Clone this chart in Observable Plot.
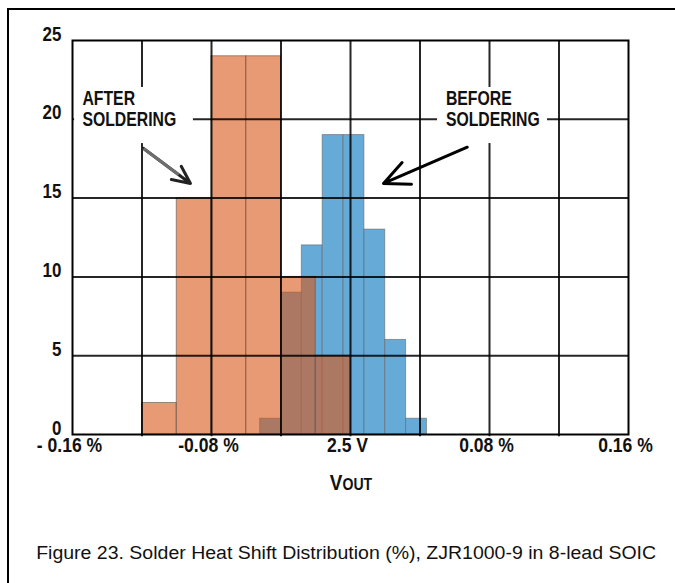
<!DOCTYPE html>
<html>
<head>
<meta charset="utf-8">
<script src="https://cdn.jsdelivr.net/npm/d3@7"></script>
<script src="https://cdn.jsdelivr.net/npm/@observablehq/plot@0.6"></script>
<style>
  html, body { margin: 0; padding: 0; background: #fff; overflow: hidden; }
  #page { position: relative; width: 675px; height: 583px; overflow: hidden; }
  #frame { position: absolute; left: 7px; top: 8px; width: 700px; height: 620px; border: 2px solid #000; box-sizing: border-box; }
  #chart { position: absolute; left: 0; top: 0; }
  #caption { position: absolute; left: 0; top: 543px; width: 692px; text-align: center;
    font-family: "Liberation Sans", Arial, sans-serif; font-size: 18px; line-height: 20px; color: #111; }
  #caption span { display: inline-block; white-space: nowrap; transform-origin: 50% 50%; }
</style>
</head>
<body>
<div id="page">
  <div id="frame"></div>
  <div id="chart"></div>
  <div id="caption"><span>Figure 23. Solder Heat Shift Distribution (%), ZJR1000-9 in 8-lead SOIC</span></div>
</div>
<script>
// Histogram of output shift (% of 2.5 V), 80 parts before and after soldering
const afterEdges = [-0.12, -0.10, -0.08, -0.06, -0.04, -0.02, 0];
const afterCounts = [2, 15, 24, 24, 10, 5];
const beforeEdges = [-0.052, -0.040, -0.028, -0.016, -0.004, 0.008, 0.020, 0.032, 0.044];
const beforeCounts = [1, 9, 12, 19, 19, 13, 6, 1];

const xTicks = [-0.16, -0.08, 0, 0.08, 0.16];
const xTickLabels = ["-\u00a00.16 %", "-0.08 %", "2.5 V", "0.08 %", "0.16 %"];
const xGrid = [-0.12, -0.08, -0.04, 0, 0.04, 0.08, 0.12];
const yTicks = [0, 5, 10, 15, 20, 25];
const yGrid = [5, 10, 15, 20];

const noteText = ["AFTER\nSOLDERING", "BEFORE\nSOLDERING"];
const noteX = [-0.1543, 0.0549];
const noteY = [21.9, 21.9];
const boxX1 = [-0.1588, 0.0501];
const boxX2 = [-0.0904, 0.1134];
const boxY1 = [18.46, 18.46];
const boxY2 = [22.02, 22.02];
const arrowX1 = [-0.1191, 0.0672];
const arrowY1 = [18.15, 18.23];
const arrowX2 = [-0.0921, 0.019];
const arrowY2 = [15.93, 15.93];

const bins = (edges, counts) => counts.map((c, i) => ({x1: edges[i], x2: edges[i + 1], y: c}));
const after = bins(afterEdges, afterCounts);
const before = bins(beforeEdges, beforeCounts);
const notes = noteText.map((t, i) => ({text: t, x: noteX[i], y: noteY[i]}));
const boxes = boxX1.map((d, i) => ({x1: d, x2: boxX2[i], y1: boxY1[i], y2: boxY2[i]}));
const arrows = arrowX1.map((d, i) => ({x1: d, y1: arrowY1[i], x2: arrowX2[i], y2: arrowY2[i]}));

const bold = "'Liberation Sans', Arial, sans-serif";

const plot = Plot.plot({
  width: 675,
  height: 500,
  marginLeft: 72,
  marginRight: 47,
  marginTop: 40,
  marginBottom: 66,
  style: {fontFamily: bold, fontSize: "19px", fontWeight: "bold", color: "#111", background: "transparent"},
  x: {domain: [-0.16, 0.16]},
  y: {domain: [0, 25]},
  marks: [
    Plot.rectY(before, {x1: "x1", x2: "x2", y: "y", fill: "#66aad8", stroke: "#666", strokeOpacity: 0.6, strokeWidth: 1}),
    Plot.rectY(after, {x1: "x1", x2: "x2", y: "y", fill: "rgb(217,87,23)", fillOpacity: 0.6, stroke: "#555", strokeOpacity: 0.6, strokeWidth: 1}),
    Plot.ruleY(yGrid, {stroke: "#000", strokeWidth: 2, strokeOpacity: 0.85}),
    Plot.ruleX(xGrid, {y1: -0.15, y2: 25, stroke: "#000", strokeWidth: 2, strokeOpacity: 0.85}),
    Plot.frame({stroke: "#000", strokeWidth: 2}),
    Plot.rect(boxes, {x1: "x1", x2: "x2", y1: "y1", y2: "y2", fill: "white"}),
    Plot.axisY(yTicks, {tickSize: 0, tickPadding: 11, lineAnchor: "bottom", dy: 0, label: null, fontSize: 19.5, fontWeight: "bold"}),
    Plot.axisX(xTicks, {tickSize: 0, tickPadding: 4, lineAnchor: "top", dx: -3, label: null, fontSize: 19.5, fontWeight: "bold",
      tickFormat: d => xTickLabels[xTicks.indexOf(d)]}),
    Plot.text(notes, {x: "x", y: "y", text: "text", textAnchor: "start", lineAnchor: "top", lineHeight: 1.1, fontSize: 19.5, fontWeight: "bold", fill: "#111"}),
    Plot.arrow(arrows, {x1: "x1", y1: "y1", x2: "x2", y2: "y2", stroke: (d, i) => i === 0 ? "#222" : "#000", strokeWidth: 3, headLength: 14, headAngle: 50}),
    Plot.link(arrows.slice(0, 1), {x1: "x1", y1: "y1", x2: d => d.x1 + (d.x2 - d.x1) * 0.75, y2: d => d.y1 + (d.y2 - d.y1) * 0.75, stroke: "#6e6e6e", strokeWidth: 3})
  ]
});

// axis title with small-capital "OUT"
const xs = plot.scale("x");
const svg = d3.select(plot);
const title = svg.append("text")
  .attr("x", xs.apply(0) + 1)
  .attr("y", 490)
  .attr("text-anchor", "middle")
  .attr("font-family", bold)
  .attr("font-weight", "bold")
  .attr("fill", "#111");
title.append("tspan").attr("font-size", 21.5).text("V");
title.append("tspan").attr("font-size", 16).text("OUT");

document.getElementById("chart").appendChild(plot);

// condensed bold lettering
function squeeze(sel, k) {
  sel.each(function() {
    const len = this.getComputedTextLength();
    this.setAttribute("textLength", (len * k).toFixed(2));
    this.setAttribute("lengthAdjust", "spacingAndGlyphs");
  });
}
squeeze(svg.selectAll('g[aria-label="y-axis tick label"] text'), 0.87);
squeeze(svg.selectAll('g[aria-label="x-axis tick label"] text'), 0.9);
squeeze(svg.selectAll('g[aria-label="text"] tspan'), 0.81);
squeeze(title, 0.88);

// caption stretched to the figure width
const cap = document.querySelector("#caption span");
const w = cap.getBoundingClientRect().width;
cap.style.transform = `scaleX(${(620 / w).toFixed(4)})`;
</script>
</body>
</html>
